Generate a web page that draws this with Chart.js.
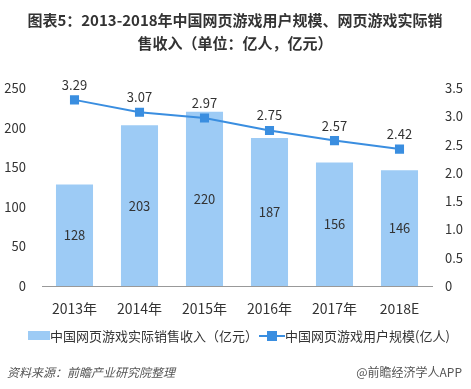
<!DOCTYPE html>
<html>
<head>
<meta charset="utf-8">
<script src="https://cdn.jsdelivr.net/npm/chart.js@4.4.1/dist/chart.umd.min.js"></script>
<style>
  html, body { margin: 0; padding: 0; background: #fff; }
  #wrap { width: 471px; height: 389px; position: relative; }
</style>
</head>
<body>
<div id="wrap"><canvas id="c" width="471" height="389"></canvas></div>
<script>
// data
const years = ['2013年', '2014年', '2015年', '2016年', '2017年', '2018E'];
const revenue = [128, 203, 220, 187, 156, 146];      // 亿元
const users = [3.29, 3.07, 2.97, 2.75, 2.57, 2.42];  // 亿人
const leftTicks = [0, 50, 100, 150, 200, 250];
const rightTicks = [0, 0.5, 1, 1.5, 2, 2.5, 3, 3.5];

const FONT = '"Noto Sans CJK SC", "Noto Sans", sans-serif';
const barColor = '#9dcbf5';
const lineColor = '#3a8ee0';

// titles, labels, legend and source line
const decorPlugin = {
    id: 'decor',
    afterDatasetsDraw(chart) {
        const ctx = chart.ctx;
        ctx.save();

        // bar values, in the middle of each bar
        ctx.font = '13px ' + FONT;
        ctx.fillStyle = '#333';
        ctx.textAlign = 'center';
        ctx.textBaseline = 'middle';
        chart.getDatasetMeta(1).data.forEach((bar, i) => {
            ctx.fillText(revenue[i], bar.x, (bar.y + bar.base) / 2);
        });

        // line values above each point
        chart.getDatasetMeta(0).data.forEach((pt, i) => {
            ctx.fillText(users[i].toFixed(2), pt.x, pt.y - 15);
        });
        ctx.restore();
    },
    afterDraw(chart) {
        const ctx = chart.ctx;
        ctx.save();
        ctx.fillStyle = '#333';
        ctx.textAlign = 'center';
        ctx.textBaseline = 'middle';
        ctx.font = 'bold 15px ' + FONT;
        ctx.fillText('图表5：2013-2018年中国网页游戏用户规模、网页游戏实际销', 235, 20);
        ctx.fillText('售收入（单位：亿人，亿元）', 235, 43);

        // legend
        ctx.font = '13px ' + FONT;
        ctx.textAlign = 'left';
        let x = 28;
        ctx.fillStyle = barColor;
        ctx.fillRect(x, 331, 22, 9);
        x += 22;
        ctx.fillStyle = '#333';
        const t1 = '中国网页游戏实际销售收入（亿元）';
        ctx.fillText(t1, x, 336);
        x += ctx.measureText(t1).width + 1;
        ctx.strokeStyle = lineColor;
        ctx.lineWidth = 2;
        ctx.beginPath();
        ctx.moveTo(x, 336);
        ctx.lineTo(x + 26, 336);
        ctx.stroke();
        ctx.fillStyle = lineColor;
        ctx.fillRect(x + 8, 331, 10, 10);
        x += 26;
        ctx.fillStyle = '#333';
        ctx.fillText('中国网页游戏用户规模(亿人)', x, 336);

        // source
        ctx.font = 'italic 12px ' + FONT;
        ctx.fillStyle = '#555';
        ctx.fillText('资料来源：前瞻产业研究院整理', 7, 372);
        ctx.font = '12px ' + FONT;
        ctx.textAlign = 'right';
        ctx.fillText('@前瞻经济学人APP', 462, 372);
        ctx.restore();
    }
};

new Chart(document.getElementById('c'), {
    data: {
        labels: years,
        datasets: [
            {
                type: 'line',
                label: '中国网页游戏用户规模(亿人)',
                data: users,
                yAxisID: 'y2',
                borderColor: lineColor,
                backgroundColor: lineColor,
                borderWidth: 2,
                pointStyle: 'rect',
                pointRadius: 5,
                pointHoverRadius: 5,
                tension: 0,
                order: 0
            },
            {
                type: 'bar',
                label: '中国网页游戏实际销售收入（亿元）',
                data: revenue,
                yAxisID: 'y',
                backgroundColor: barColor,
                barPercentage: 0.57,
                categoryPercentage: 1,
                order: 1
            }
        ]
    },
    options: {
        responsive: false,
        animation: false,
        devicePixelRatio: 1,
        layout: { padding: { top: 88, bottom: 73, left: 0, right: 0 } },
        plugins: {
            legend: { display: false },
            tooltip: { enabled: false }
        },
        scales: {
            x: {
                grid: { display: false },
                border: { color: '#999', width: 1 },
                ticks: { color: '#333', font: { size: 14, family: FONT }, padding: 6 },
                afterFit(s) { s.height = 30; }
            },
            y: {
                position: 'left',
                min: 0, max: 250,
                afterBuildTicks(s) { s.ticks = leftTicks.map(v => ({ value: v })); },
                grid: { display: false, drawTicks: false },
                border: { display: false },
                ticks: { color: '#333', font: { size: 13, family: FONT }, padding: 16 },
                afterFit(s) { s.width = 42; }
            },
            y2: {
                position: 'right',
                min: 0, max: 3.5,
                afterBuildTicks(s) { s.ticks = rightTicks.map(v => ({ value: v })); },
                grid: { display: false, drawTicks: false },
                border: { display: false },
                ticks: { color: '#333', font: { size: 13, family: FONT }, padding: 13 },
                afterFit(s) { s.width = 39; }
            }
        }
    },
    plugins: [decorPlugin]
});
</script>
</body>
</html>
